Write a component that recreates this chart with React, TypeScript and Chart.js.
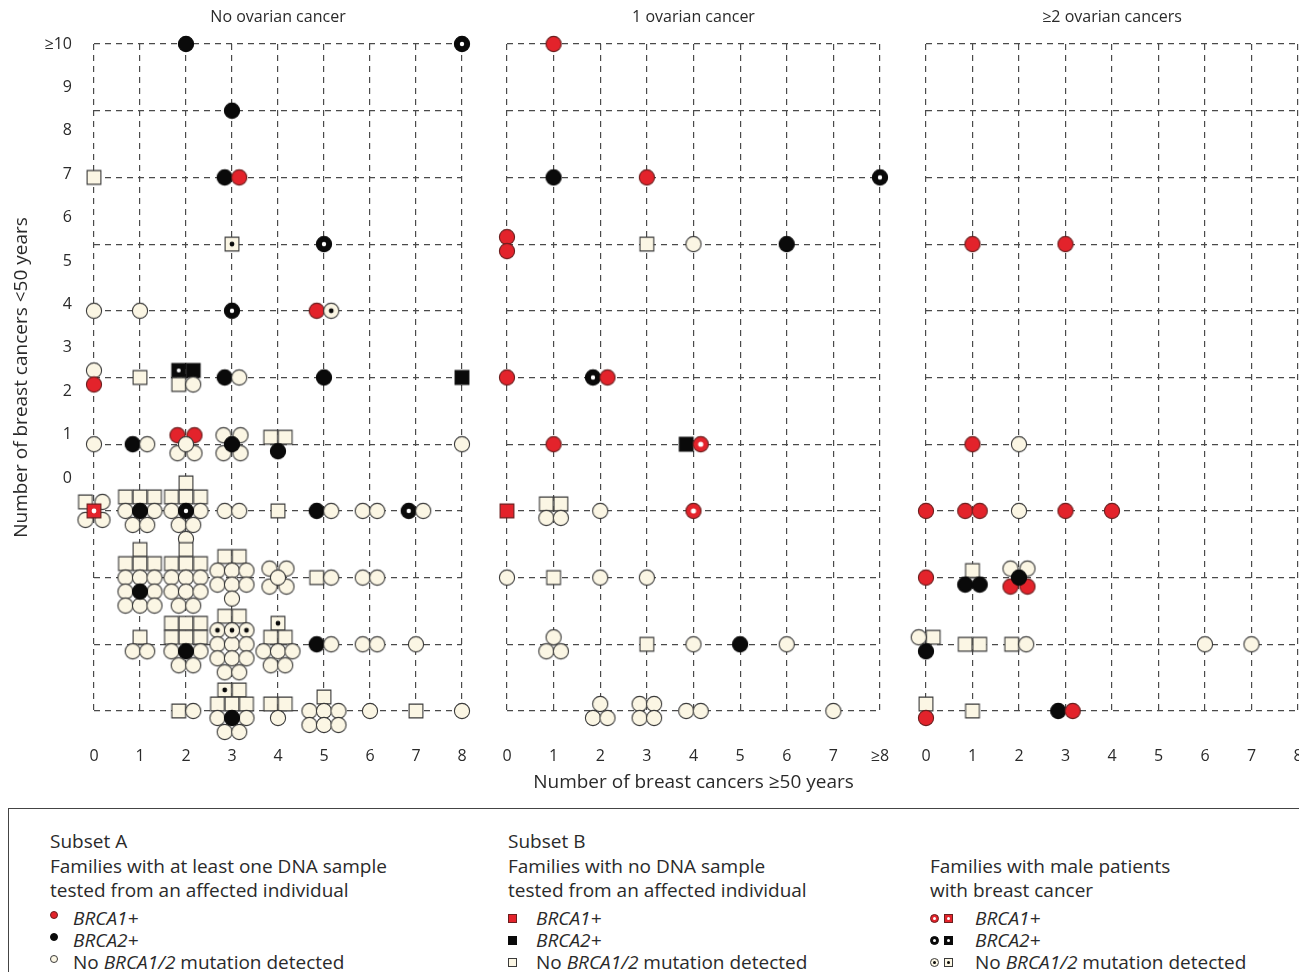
import React, { useEffect, useRef } from 'react';
import { Chart, registerables } from 'chart.js';

Chart.register(...registerables);

// ---------------- data ----------------
const xLabelsNoOvarian = ['0', '1', '2', '3', '4', '5', '6', '7', '8'];
const xLabelsOneOvarian = ['0', '1', '2', '3', '4', '5', '6', '7', '≥8'];
const xLabelsTwoOvarian = ['0', '1', '2', '3', '4', '5', '6', '7', '8'];
const yLabels = ['0', '1', '2', '3', '4', '5', '6', '7', '8', '9', '≥10'];
const panelTitles = ['No ovarian cancer', '1 ovarian cancer', '≥2 ovarian cancers'];
const xAxisTitle = 'Number of breast cancers ≥50 years';
const yAxisTitle = 'Number of breast cancers <50 years';

// Marker codes (one family each):
//  circles = subset A : r BRCA1+, k BRCA2+, c no mutation
//  squares = subset B : R BRCA1+, K BRCA2+, C no mutation
//  male breast cancer : x/X BRCA1+, y/Y BRCA2+, z/Z no mutation (circle / square)
// cells: [breast cancers >=50, grid row (10 = top row), families at that cell, row by row]
const noOvarianCells: [number, number, string][] = [
  [2, 10, 'k'], [8, 10, 'y'],
  [3, 9, 'k'],
  [0, 8, 'C'], [3, 8, 'kr'],
  [3, 7, 'Z'], [5, 7, 'y'],
  [0, 6, 'c'], [1, 6, 'c'], [3, 6, 'y'], [5, 6, 'rz'],
  [0, 5, 'c/r'], [1, 5, 'C'], [2, 5, 'YK/Cc'], [3, 5, 'kc'], [5, 5, 'k'], [8, 5, 'K'],
  [0, 4, 'c'], [1, 4, 'kc'], [2, 4, 'rr/c/cc'], [3, 4, 'cc/k/cc'], [4, 4, 'CC/k'], [8, 4, 'c'],
  [0, 3, 'Cc/X/cc'], [1, 3, 'CCC/ckc/cc'], [2, 3, 'C/CCC/cyc/cc/c'], [3, 3, 'cc'], [4, 3, 'C'],
  [5, 3, 'kc'], [6, 3, 'cc'], [7, 3, 'yc'],
  [1, 2, 'C/CCC/ccc/ckc/ccc'], [2, 2, 'C/CCC/ccc/ccc/cc'], [3, 2, 'CC/ccc/ccc/c'], [4, 2, 'cc/c/cc'],
  [5, 2, 'Cc'], [6, 2, 'cc'],
  [1, 1, 'C/cc'], [2, 1, 'CCC/CCC/ckc/cc'], [3, 1, 'CC/zzz/ccc/ccc/cc'], [4, 1, 'Z/CC/ccc/cc'],
  [5, 1, 'kc'], [6, 1, 'cc'], [7, 1, 'c'],
  [2, 0, 'Cc'], [3, 0, 'ZC/CCC/ckc/cc'], [4, 0, 'CC/c'], [5, 0, 'C/ccc/ccc'], [6, 0, 'c'], [7, 0, 'C'], [8, 0, 'c'],
];

const oneOvarianCells: [number, number, string][] = [
  [1, 10, 'r'],
  [1, 8, 'k'], [3, 8, 'r'], [8, 8, 'y'],
  [0, 7, 'r/r'], [3, 7, 'C'], [4, 7, 'c'], [6, 7, 'k'],
  [0, 5, 'r'], [2, 5, 'yr'],
  [1, 4, 'r'], [4, 4, 'Kx'],
  [0, 3, 'R'], [1, 3, 'CC/cc'], [2, 3, 'c'], [4, 3, 'x'],
  [0, 2, 'c'], [1, 2, 'C'], [2, 2, 'c'], [3, 2, 'c'],
  [1, 1, 'c/cc'], [3, 1, 'C'], [4, 1, 'c'], [5, 1, 'k'], [6, 1, 'c'],
  [2, 0, 'c/cc'], [3, 0, 'cc/cc'], [4, 0, 'cc'], [7, 0, 'c'],
];

const twoPlusOvarianCells: [number, number, string][] = [
  [1, 7, 'r'], [3, 7, 'r'],
  [1, 4, 'r'], [2, 4, 'c'],
  [0, 3, 'r'], [1, 3, 'rr'], [2, 3, 'c'], [3, 3, 'r'], [4, 3, 'r'],
  [0, 2, 'r'], [1, 2, 'C/kk'], [2, 2, 'cc/k/rr'],
  [0, 1, 'cC/k'], [1, 1, 'CC'], [2, 1, 'Cc'], [6, 1, 'c'], [7, 1, 'c'],
  [0, 0, 'C/r'], [1, 0, 'C'], [3, 0, 'kr'],
];

// ---------------- layout & style ----------------
const FONT = '"Open Sans", "DejaVu Sans", sans-serif';
const TEXT = '#2a2a2a';
const GRID = '#4a4a4a';
const RED = '#e3232b';
const RED_EDGE = '#6a1e1e';
const BLACK = '#0a0a0a';
const CREAM = '#fbf6e4';
const EDGE = '#3a3a3a';

const CANVAS_H = 790;
const AREA_TOP = 36;
const XAXIS_H = 87;
const AREA_H = CANVAS_H - AREA_TOP - XAXIS_H;
const LABEL_STEP_PX = 43.4; // spacing of the printed y labels

const panels = [
  { left: 0, width: 480, padL: 0, padR: 26, axisW: 86, cells: noOvarianCells, labels: xLabelsNoOvarian },
  { left: 480, width: 415, padL: 19, padR: 23, axisW: 0, cells: oneOvarianCells, labels: xLabelsOneOvarian },
  { left: 895, width: 404, padL: 23, padR: 9, axisW: 0, cells: twoPlusOvarianCells, labels: xLabelsTwoOvarian },
];

const PITCH = 14.5;
const ROW_PITCH = 14;
const FLOWER_ROW = 9;
const FLOWER_COL = 17;

type Pt = { x: number; y: number; t: string };

function expandCells(cells: [number, number, string][], pxX: number, pxY: number): Pt[] {
  const out: Pt[] = [];
  for (const [cx, cy, spec] of cells) {
    const rows = spec.split('/');
    const flower = rows.length === 3 && rows[0].length === 2 && rows[1].length === 1 && rows[2].length === 2;
    const rp = flower ? FLOWER_ROW : ROW_PITCH;
    const cp = flower ? FLOWER_COL : PITCH;
    const list: { p: Pt; pr: number; i: number }[] = [];
    let k = 0;
    rows.forEach((r, i) => {
      const dy = (i - (rows.length - 1) / 2) * rp;
      const chars = [...r];
      chars.forEach((t, j) => {
        const dx = (j - (chars.length - 1) / 2) * cp;
        const isSquare = t === t.toUpperCase();
        let pr = isSquare ? 0 : 1;
        if (!isSquare && t !== 'c' && j > 0 && j < chars.length - 1) pr = 2;
        if (flower && i === 1) pr = 3;
        list.push({ p: { x: cx + dx / pxX, y: cy - dy / pxY, t }, pr, i: k++ });
      });
    });
    list.sort((a, b) => a.pr - b.pr || a.i - b.i);
    list.forEach((l) => out.push(l.p));
  }
  return out;
}

function makeMarker(shape: 'circle' | 'square', fill: string, edge: string, dot?: { r: number; c: string }) {
  const c = document.createElement('canvas');
  c.width = 20;
  c.height = 20;
  const g = c.getContext('2d')!;
  g.translate(10, 10);
  g.beginPath();
  if (shape === 'circle') g.arc(0, 0, 7.6, 0, Math.PI * 2);
  else g.rect(-6.9, -6.9, 13.8, 13.8);
  g.fillStyle = fill;
  g.fill();
  g.lineWidth = 1.1;
  g.strokeStyle = edge;
  g.stroke();
  if (dot) {
    g.beginPath();
    g.arc(0, 0, dot.r, 0, Math.PI * 2);
    g.fillStyle = dot.c;
    g.fill();
  }
  return c;
}

function makeMarkers(): Record<string, HTMLCanvasElement> {
  return {
    r: makeMarker('circle', RED, RED_EDGE),
    k: makeMarker('circle', BLACK, BLACK),
    c: makeMarker('circle', CREAM, EDGE),
    R: makeMarker('square', RED, RED_EDGE),
    K: makeMarker('square', BLACK, BLACK),
    C: makeMarker('square', CREAM, EDGE),
    x: makeMarker('circle', RED, RED_EDGE, { r: 2.6, c: '#ffffff' }),
    y: makeMarker('circle', BLACK, BLACK, { r: 2.2, c: '#ffffff' }),
    z: makeMarker('circle', CREAM, EDGE, { r: 2.4, c: BLACK }),
    X: makeMarker('square', RED, RED_EDGE, { r: 2.4, c: '#ffffff' }),
    Y: makeMarker('square', BLACK, BLACK, { r: 2.0, c: '#ffffff' }),
    Z: makeMarker('square', CREAM, EDGE, { r: 2.4, c: BLACK }),
  };
}

const range = (n: number) => Array.from({ length: n }, (_, i) => i);

function buildConfig(idx: number, markers: Record<string, HTMLCanvasElement>): any {
  const p = panels[idx];
  const areaW = p.width - p.padL - p.padR - p.axisW;
  const pts = expandCells(p.cells, areaW / 8, AREA_H / 10);
  const tickFont = { family: FONT, size: 16, weight: 'normal' as const };
  const scales: any = {
    x: {
      type: 'linear',
      min: 0,
      max: 8,
      afterBuildTicks: (s: any) => {
        s.ticks = range(9).map((v) => ({ value: v }));
      },
      ticks: {
        callback: (v: any) => p.labels[Math.round(Number(v))],
        font: tickFont,
        color: TEXT,
        padding: 36,
        maxRotation: 0,
        autoSkip: false,
      },
      grid: { color: GRID, lineWidth: 1.2, drawTicks: false },
      border: { display: false, dash: [6, 5] },
      title:
        idx === 1
          ? {
              display: true,
              text: xAxisTitle,
              font: { family: FONT, size: 19, weight: 'normal' },
              color: TEXT,
              padding: { top: 0, bottom: 4 },
            }
          : { display: false },
      afterFit: (s: any) => {
        s.height = XAXIS_H;
        s.paddingLeft = 0;
        s.paddingRight = 0;
      },
    },
    y: {
      type: 'linear',
      position: 'left',
      min: 0,
      max: 10,
      afterBuildTicks: (s: any) => {
        s.ticks = range(11).map((v) => ({ value: v }));
      },
      ticks: { display: false },
      grid: { color: GRID, lineWidth: 1.2, drawTicks: false },
      border: { display: false, dash: [6, 5] },
      afterFit: (s: any) => {
        s.width = 0;
        s.paddingTop = 0;
        s.paddingBottom = 0;
      },
    },
  };
  if (idx === 0) {
    scales.yl = {
      type: 'linear',
      position: 'left',
      min: 10 - AREA_H / LABEL_STEP_PX,
      max: 10,
      afterBuildTicks: (s: any) => {
        s.ticks = range(11).map((v) => ({ value: v }));
      },
      ticks: {
        callback: (v: any) => yLabels[Math.round(Number(v))],
        font: tickFont,
        color: TEXT,
        padding: 22,
      },
      grid: { display: false, drawTicks: false },
      border: { display: false },
      title: {
        display: true,
        text: yAxisTitle,
        font: { family: FONT, size: 19, weight: 'normal' },
        color: TEXT,
        padding: { top: 2, bottom: 0 },
      },
      afterFit: (s: any) => {
        s.width = p.axisW;
        s.paddingTop = 0;
        s.paddingBottom = 0;
      },
    };
  }
  return {
    type: 'scatter',
    data: {
      datasets: [
        {
          data: pts.map((q) => ({ x: q.x, y: q.y })),
          pointStyle: pts.map((q) => markers[q.t]),
          pointRadius: 30,
          pointHoverRadius: 30,
          pointBorderWidth: 0,
          showLine: false,
          clip: false,
        },
      ],
    },
    options: {
      responsive: false,
      animation: false,
      devicePixelRatio: 1,
      events: [],
      layout: { autoPadding: false, padding: { left: p.padL, right: p.padR, top: 0, bottom: 0 } },
      plugins: {
        legend: { display: false },
        tooltip: { enabled: false },
        title: {
          display: true,
          text: panelTitles[idx],
          fullSize: false,
          font: { family: FONT, size: 16, weight: 'normal' },
          color: TEXT,
          padding: { top: 0, bottom: AREA_TOP - 19.2 },
        },
      },
      scales,
    },
  };
}

// ---------------- legend (HTML) ----------------
const legendHeads = [
  ['Subset A', 'Families with at least one DNA sample', 'tested from an affected individual'],
  ['Subset B', 'Families with no DNA sample', 'tested from an affected individual'],
  ['', 'Families with male patients', 'with breast cancer'],
];
const legendSymbols = [
  [['r'], ['k'], ['c']],
  [['R'], ['K'], ['C']],
  [['x', 'X'], ['y', 'Y'], ['z', 'Z']],
];

function LegendSymbol({ t, small }: { t: string; small: boolean }) {
  const isSquare = t === t.toUpperCase();
  const base = t.toLowerCase();
  const fill = base === 'r' || base === 'x' ? RED : base === 'k' || base === 'y' ? BLACK : CREAM;
  const edge = base === 'c' || base === 'z' ? EDGE : fill === RED ? RED_EDGE : BLACK;
  const dot = base === 'x' || base === 'y' ? '#fff' : base === 'z' ? BLACK : null;
  const size = small ? 8 : 9;
  return (
    <span
      style={{
        position: 'relative',
        display: 'inline-block',
        width: size,
        height: size,
        boxSizing: 'border-box',
        background: fill,
        border: `1px solid ${edge}`,
        borderRadius: isSquare ? 0 : '50%',
        marginRight: 5,
        verticalAlign: 'middle',
      }}
    >
      {dot && (
        <span
          style={{
            position: 'absolute',
            left: '50%',
            top: '50%',
            width: 3,
            height: 3,
            marginLeft: -1.5,
            marginTop: -1.5,
            borderRadius: '50%',
            background: dot,
          }}
        />
      )}
    </span>
  );
}

function ItemText({ i }: { i: number }) {
  if (i === 0) return <i>BRCA1+</i>;
  if (i === 1) return <i>BRCA2+</i>;
  return (
    <span>
      No <i>BRCA1/2</i> mutation detected
    </span>
  );
}

function Legend() {
  const colLeft = [41, 499, 921];
  const headTops = [21, 46, 70];
  const itemTops = [98, 120, 142];
  return (
    <div
      style={{
        position: 'absolute',
        left: 0,
        top: 800,
        width: 1292,
        height: 170,
        boxSizing: 'border-box',
        border: '1px solid #444',
        fontFamily: FONT,
        fontSize: 19,
        color: TEXT,
        lineHeight: '22px',
      }}
    >
      {legendHeads.map((heads, c) => (
        <div key={c}>
          {heads.map((h, j) =>
            h ? (
              <div key={j} style={{ position: 'absolute', left: colLeft[c], top: headTops[j], whiteSpace: 'nowrap' }}>
                {h}
              </div>
            ) : null
          )}
          {legendSymbols[c].map((syms, j) => (
            <div key={'i' + j} style={{ position: 'absolute', left: colLeft[c], top: itemTops[j], whiteSpace: 'nowrap' }}>
              <span style={{ display: 'inline-block', width: c === 2 ? 45 : c === 1 ? 28 : 23, position: 'relative', top: c === 0 ? -5 : -1 }}>
                {syms.map((s, k) => (
                  <LegendSymbol key={k} t={s} small={c === 0} />
                ))}
              </span>
              <ItemText i={j} />
            </div>
          ))}
        </div>
      ))}
    </div>
  );
}

export default function App() {
  const r0 = useRef<HTMLCanvasElement>(null);
  const r1 = useRef<HTMLCanvasElement>(null);
  const r2 = useRef<HTMLCanvasElement>(null);
  const refs = [r0, r1, r2];

  useEffect(() => {
    document.documentElement.style.overflow = 'hidden';
    const markers = makeMarkers();
    const charts = refs.map((r, i) => new Chart(r.current as HTMLCanvasElement, buildConfig(i, markers)));
    return () => charts.forEach((c) => c.destroy());
  }, []);

  return (
    <div style={{ position: 'relative', width: 1291, height: 964, fontFamily: FONT }}>
      {panels.map((p, i) => (
        <canvas
          key={i}
          ref={refs[i]}
          width={p.width}
          height={CANVAS_H}
          style={{ position: 'absolute', left: p.left, top: 0, width: p.width, height: CANVAS_H }}
        />
      ))}
      <Legend />
    </div>
  );
}
